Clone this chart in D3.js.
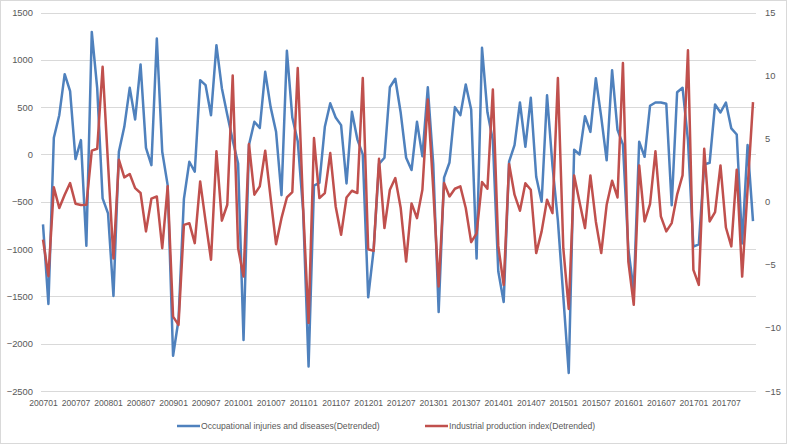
<!DOCTYPE html>
<html>
<head>
<meta charset="utf-8">
<script src="https://cdn.jsdelivr.net/npm/d3@7"></script>
<style>
    body { margin: 0; background: #fff; }
    svg { display: block; font-family: "Liberation Sans", Arial, sans-serif; }
</style>
</head>
<body>
<svg id="chart" width="787" height="444"></svg>
<script>

// months 200701 .. 201712
let years = [2007, 2008, 2009, 2010, 2011, 2012, 2013, 2014, 2015, 2016, 2017];
let months = ['01', '02', '03', '04', '05', '06', '07', '08', '09', '10', '11', '12'];
let categories = [];
years.forEach(y => months.forEach(m => categories.push(y + m)));

// occupational injuries and diseases (detrended), left axis
let injuries = [
    -740, -1580, 176, 415, 848, 669, -49, 151, -964, 1295, 700, -465,
    -623, -1496, 28, 292, 704, 370, 951, 70, -113, 1225, 28, -324,
    -2127, -1750, -470, -77, -183, 785, 732, 415, 1155, 700, 420, 150,
    -95, -1960, 100, 345, 280, 873, 500, 240, -430, 1095, 390, 140,
    -600, -2240, -330, -300, 292, 540, 390, 310, -306, 450, 160, 0,
    -1510, -1010, -100, -35, 710, 800, 440, -35, -165, 345, -20, 710,
    -100, -1665, -245, -85, 500, 415, 739, 475, -1100, 1127, 445, 150,
    -1235, -1560, -77, 99, 549, 81, 598, -236, -500, 625, -118, -700,
    -1500, -2310, 50, 0, 404, 238, 805, 395, -62, 890, 260, 105,
    -1000, -1450, 134, -25, 514, 549, 549, 535, -537, 657, 705, 150,
    -975, -951, -106, -88, 528, 444, 549, 275, 211, -940, 99, -704
];

// industrial production index (detrended), right axis
let production = [
    -3.0, -5.9, 1.14, -0.5, 0.56, 1.48, -0.16, -0.26, -0.24, 4.05, 4.2, 10.7,
    3.0, -4.5, 3.33, 1.93, 2.2, 1.08, 0.69, -2.35, 0.24, 0.42, -3.68, 1.22,
    -9.1, -9.76, -1.83, -1.7, -3.28, 1.61, -1.56, -4.6, 4.0, -1.5, -0.24, 10.0,
    -3.68, -5.93, 4.58, 0.56, 1.22, 4.05, 0.29, -3.36, -1.3, 0.34, 0.77, 10.6,
    -0.5, -9.6, 5.05, 0.29, 0.69, 3.86, -0.37, -2.62, 0.34, 0.87, 0.69, 9.8,
    -3.76, -3.89, 3.41, -2.09, 0.95, 1.88, -0.5, -4.74, -0.13, -1.3, 0.95, 8.1,
    1.0, -6.72, 1.48, 0.42, 1.03, 1.22, -0.5, -3.2, -2.5, 1.56, 1.03, 8.9,
    -3.5, -6.6, 3.0, 0.56, -0.71, 1.46, 0.95, -4.07, -2.35, 0.16, -0.9, 9.8,
    -3.68, -8.5, 2.09, -0.03, -2.09, 2.09, -1.56, -4.07, -0.24, 1.67, 0.34, 11.0,
    -4.74, -8.17, 2.88, -1.56, -0.19, 4.0, -1.16, -2.35, -1.69, 0.56, 2.09, 12.0,
    -5.4, -6.59, 4.2, -1.56, -0.82, 2.88, -2.04, -3.54, 2.54, -5.93, 1.0, 7.9
];

let leftTicks = [-2500, -2000, -1500, -1000, -500, 0, 500, 1000, 1500];
let rightTicks = [-15, -10, -5, 0, 5, 10, 15];
let seriesNames = ['Occupational injuries and diseases(Detrended)', 'Industrial production index(Detrended)'];
let seriesColors = ['#4f81bd', '#c0504d'];

let Plot = {
    Left: 41,
    Right: 756,
    Top: 12.5,
    Bottom: 391
};

let svg = d3.select('#chart');

svg.append('rect')
    .attr('x', 0.5)
    .attr('y', 0.5)
    .attr('width', 786)
    .attr('height', 443)
    .attr('fill', '#fff')
    .attr('stroke', '#d9d9d9');

let x = d3
    .scalePoint()
    .domain(categories)
    .range([43, 753]);

let yLeft = d3
    .scaleLinear()
    .domain([-2500, 1500])
    .range([Plot.Bottom, Plot.Top]);

let yRight = d3
    .scaleLinear()
    .domain([-15, 15])
    .range([Plot.Bottom, Plot.Top]);

// gridlines
svg.append('g')
    .selectAll('line')
    .data(leftTicks)
    .join('line')
    .attr('x1', Plot.Left)
    .attr('x2', Plot.Right)
    .attr('y1', d => Math.round(yLeft(d)) + 0.5)
    .attr('y2', d => Math.round(yLeft(d)) + 0.5)
    .attr('stroke', '#d9d9d9')
    .attr('stroke-width', 1);

// left axis
let leftAxis = svg.append('g')
    .attr('transform', `translate(${Plot.Left - 8},0)`)
    .call(d3.axisLeft(yLeft).tickValues(leftTicks).tickFormat(d3.format('d')).tickSize(0).tickPadding(0));
leftAxis.select('.domain').remove();

// right axis
let rightAxis = svg.append('g')
    .attr('transform', `translate(${Plot.Right + 9},0)`)
    .call(d3.axisRight(yRight).tickValues(rightTicks).tickSize(0).tickPadding(0));
rightAxis.select('.domain').remove();

// bottom axis
let bottomAxis = svg.append('g')
    .attr('transform', `translate(0,${Plot.Bottom + 6})`)
    .call(d3.axisBottom(x)
        .tickValues(categories.filter((d, i) => i % 6 === 0))
        .tickSize(0)
        .tickPadding(3));
bottomAxis.select('.domain').remove();
bottomAxis.selectAll('text').attr('font-size', 8.6);

[leftAxis, rightAxis].forEach(a => a.selectAll('text').attr('font-size', 9.4));
svg.selectAll('.tick text')
    .attr('fill', '#595959')
    .attr('font-family', '"Liberation Sans", Arial, sans-serif');

// lines
let series = [
    { values: injuries, y: yLeft, color: seriesColors[0] },
    { values: production, y: yRight, color: seriesColors[1] }
];

series.forEach(s => {
    let line = d3.line()
        .x((d, i) => x(categories[i]))
        .y(d => s.y(d));
    svg.append('path')
        .datum(s.values)
        .attr('fill', 'none')
        .attr('stroke', s.color)
        .attr('stroke-width', 2.5)
        .attr('stroke-linejoin', 'round')
        .attr('d', line);
});

// legend
let legendX = [177, 425];
let legend = svg.append('g')
    .selectAll('g')
    .data(seriesNames)
    .join('g')
    .attr('transform', (d, i) => `translate(${legendX[i]},426)`);
legend.append('line')
    .attr('x1', 0)
    .attr('x2', 23)
    .attr('stroke', (d, i) => seriesColors[i])
    .attr('stroke-width', 2.5);
legend.append('text')
    .attr('x', 24)
    .attr('dy', '0.35em')
    .attr('font-size', 8.6)
    .attr('fill', '#595959')
    .text(d => d);

</script>
</body>
</html>
